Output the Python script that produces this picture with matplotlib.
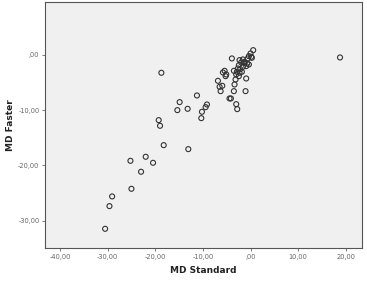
import matplotlib
matplotlib.use("Agg")
import matplotlib.pyplot as plt
from matplotlib.ticker import FuncFormatter, FixedLocator

md_standard = [
    18.81, -18.74, -11.26, -14.90, -15.38, -13.22, -10.21, -10.35, -9.16, -9.44,
    -19.30, -19.02, -18.25, -13.08, -22.03, -25.24, -20.49, -23.01, -25.03, -29.09,
    -29.65, -30.56,
    0.56, -3.92, 0.00, -0.35, 0.14, -2.31, -1.61, -1.96, -1.26, -0.70,
    -0.35, -0.91, -2.45, -1.61, -3.50, -2.87, -2.31, -1.82, -3.01, -2.45,
    -5.45, -5.80, -5.10, -5.24, -0.91, -3.15, -6.85, -3.36, -6.50, -5.94,
    -6.29, -3.50, -1.05, -4.41, -4.13, -3.01, -2.80,
    -1.40, -2.66, -2.17, -0.56, 0.28,
]
md_faster = [
    -0.48, -3.25, -7.35, -8.55, -10.00, -9.76, -10.30, -11.45, -8.98, -9.46,
    -11.81, -12.83, -16.33, -17.05, -18.43, -19.16, -19.52, -21.14, -24.22, -25.60,
    -27.35, -31.45,
    0.84, -0.66, 0.24, -0.24, -0.36, -0.96, -0.84, -1.39, -1.27, -1.57,
    -1.75, -2.05, -1.87, -2.17, -2.89, -3.07, -3.25, -3.07, -3.55, -3.86,
    -2.89, -3.19, -3.55, -3.86, -4.28, -4.46, -4.70, -5.36, -5.78, -5.60,
    -6.57, -6.57, -6.57, -7.89, -7.89, -8.92, -9.82,
    -1.45, -2.47, -2.59, -0.66, -0.54,
]
x_ticks = [-40, -30, -20, -10, 0, 10, 20]
y_ticks = [0, -10, -20, -30]


def spss_fmt(v, pos=None):
    s = f"{v:.2f}".replace(".", ",")
    if s.startswith("0,"):
        s = s[1:]
    if s.startswith("-0,"):
        s = "-" + s[2:]
    return s


fig = plt.figure(figsize=(3.67, 2.82), dpi=100)
ax = fig.add_axes([0.1226, 0.119, 0.8634, 0.875])
ax.set_facecolor("#f0f0f0")
ax.scatter(md_standard, md_faster, s=13, facecolors="none",
           edgecolors="#333333", linewidths=0.8)
ax.set_xlim(-43.2, 23.4)
ax.set_ylim(-35.0, 9.6)
ax.xaxis.set_major_locator(FixedLocator(x_ticks))
ax.yaxis.set_major_locator(FixedLocator(y_ticks))
ax.xaxis.set_major_formatter(FuncFormatter(spss_fmt))
ax.yaxis.set_major_formatter(FuncFormatter(spss_fmt))
ax.tick_params(labelsize=4.8, colors="#666666", length=2.5, width=0.6, pad=1.5)
for sp in ax.spines.values():
    sp.set_color("#555555")
    sp.set_linewidth(0.8)
ax.set_xlabel("MD Standard", fontsize=6.5, fontweight="bold", color="#222222", labelpad=4)
ax.set_ylabel("MD Faster", fontsize=6.5, fontweight="bold", color="#222222", labelpad=2)
fig.savefig("out.png", dpi=100)
